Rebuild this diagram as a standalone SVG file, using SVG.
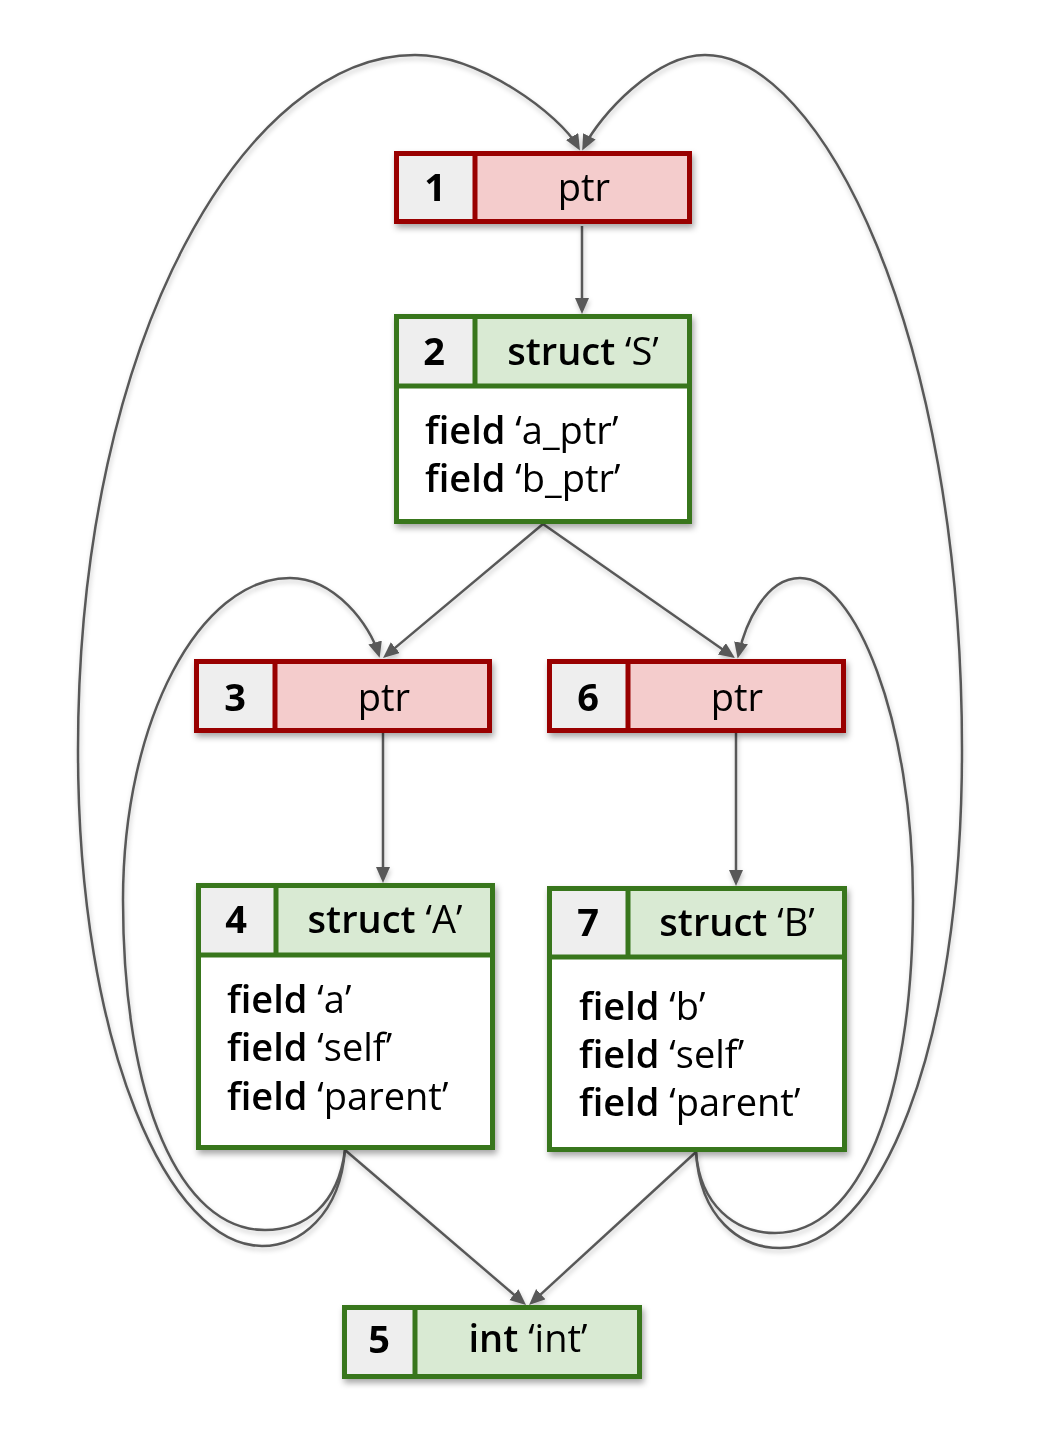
<svg xmlns="http://www.w3.org/2000/svg" width="1050" height="1451" viewBox="0 0 1050 1451">
<defs>
<filter id="nsh" x="-10%" y="-10%" width="125%" height="130%">
<feDropShadow dx="2" dy="4" stdDeviation="3" flood-color="#000" flood-opacity="0.35"/>
</filter>
<filter id="esh" x="-10%" y="-10%" width="120%" height="120%">
<feDropShadow dx="1" dy="3" stdDeviation="2.5" flood-color="#000" flood-opacity="0.22"/>
</filter>
<marker id="ah" markerUnits="userSpaceOnUse" markerWidth="18" markerHeight="16" refX="12" refY="7" orient="auto">
<path d="M0,0 L16,7 L0,14 z" fill="#595959"/>
</marker>
</defs>
<style>
text{font-family:"Open Sans","Noto Sans","Liberation Sans",sans-serif;font-size:38px;fill:#000}
.num{font-weight:700;text-anchor:middle}
.hd{text-anchor:middle}
.ptr{font-weight:500}
.b{font-weight:600}
.red{stroke:#990000;stroke-width:5;fill:none}
.grn{stroke:#38761d;stroke-width:5;fill:none}
.gc{fill:#eeeeee}
.pk{fill:#f4cccc}
.lg{fill:#d9ead3}
.wh{fill:#ffffff}
.e{fill:none;stroke:#595959;stroke-width:2.5;marker-end:url(#ah)}
</style>
<rect width="1050" height="1451" fill="#ffffff"/>
<g id="connectors" filter="url(#esh)">
<path class="e" d="M582,226 L582,310"/>
<path class="e" d="M543,524 L386.1,655.4"/>
<path class="e" d="M543,524 L731.7,655.7"/>
<path class="e" d="M383,733 L383,879"/>
<path class="e" d="M736,733 L736,882"/>
<path class="e" d="M345,1150 L523,1302.4"/>
<path class="e" d="M696,1152 L532,1302.3"/>
<path class="e" d="M345,1150 C340,1215 300,1246 262,1246 C170,1246 78,1050 78,750 C78,330 250,55 415,55 C480,55 560,115 578,147"/>
<path class="e" d="M696,1152 C700,1218 740,1248 780,1248 C880,1248 962,1050 962,750 C962,330 820,55 705,55 C655,55 600,115 584,147"/>
<path class="e" d="M345,1150 C338,1205 305,1230 265,1230 C180,1230 123,1100 123,900 C123,720 200,578 290,578 C335,578 370,625 378.5,654"/>
<path class="e" d="M696,1152 C700,1205 735,1233 775,1233 C860,1233 913,1100 913,900 C913,720 855,578 800,578 C765,578 745,625 738.5,654.5"/>
</g>
<g id="node1" filter="url(#nsh)">
<rect class="gc" x="396.5" y="153.5" width="79" height="68"/>
<rect class="pk" x="475" y="153.5" width="214.5" height="68"/>
<rect class="red" x="396.5" y="153.5" width="293" height="68"/>
<line class="red" x1="475" y1="153.5" x2="475" y2="221.5"/>
<text class="num" x="435" y="201">1</text>
<text class="hd ptr" x="584" y="201">ptr</text>
</g>
<g id="node2" filter="url(#nsh)">
<rect class="wh" x="396.5" y="316.5" width="293" height="205"/>
<rect class="gc" x="396.5" y="316.5" width="78.5" height="69.5"/>
<rect class="lg" x="475" y="316.5" width="214.5" height="69.5"/>
<rect class="grn" x="396.5" y="316.5" width="293" height="205"/>
<line class="grn" x1="396.5" y1="386" x2="689.5" y2="386"/>
<line class="grn" x1="475" y1="316.5" x2="475" y2="386"/>
<text class="num" x="434" y="365">2</text>
<text class="hd" x="583" y="365"><tspan class="b">struct</tspan> ‘S’</text>
<text x="425" y="444"><tspan class="b">field</tspan> ‘a_ptr’</text>
<text x="425" y="492"><tspan class="b">field</tspan> ‘b_ptr’</text>
</g>
<g id="node3" filter="url(#nsh)">
<rect class="gc" x="196.5" y="661.5" width="78.5" height="69"/>
<rect class="pk" x="275" y="661.5" width="214.5" height="69"/>
<rect class="red" x="196.5" y="661.5" width="293" height="69"/>
<line class="red" x1="275" y1="661.5" x2="275" y2="730.5"/>
<text class="num" x="235" y="711">3</text>
<text class="hd ptr" x="384" y="711">ptr</text>
</g>
<g id="node6" filter="url(#nsh)">
<rect class="gc" x="549.5" y="661.5" width="78.5" height="69"/>
<rect class="pk" x="628" y="661.5" width="215.5" height="69"/>
<rect class="red" x="549.5" y="661.5" width="294" height="69"/>
<line class="red" x1="628" y1="661.5" x2="628" y2="730.5"/>
<text class="num" x="588" y="711">6</text>
<text class="hd ptr" x="737" y="711">ptr</text>
</g>
<g id="node4" filter="url(#nsh)">
<rect class="wh" x="198.5" y="885.5" width="294" height="262"/>
<rect class="gc" x="198.5" y="885.5" width="77.5" height="69.5"/>
<rect class="lg" x="276" y="885.5" width="216.5" height="69.5"/>
<rect class="grn" x="198.5" y="885.5" width="294" height="262"/>
<line class="grn" x1="198.5" y1="955" x2="492.5" y2="955"/>
<line class="grn" x1="276" y1="885.5" x2="276" y2="955"/>
<text class="num" x="236" y="933">4</text>
<text class="hd" x="385" y="933"><tspan class="b">struct</tspan> ‘A’</text>
<text x="227" y="1013"><tspan class="b">field</tspan> ‘a’</text>
<text x="227" y="1061"><tspan class="b">field</tspan> ‘self’</text>
<text x="227" y="1110"><tspan class="b">field</tspan> ‘parent’</text>
</g>
<g id="node7" filter="url(#nsh)">
<rect class="wh" x="549.5" y="888.5" width="295" height="261"/>
<rect class="gc" x="549.5" y="888.5" width="78.5" height="68.5"/>
<rect class="lg" x="628" y="888.5" width="216.5" height="68.5"/>
<rect class="grn" x="549.5" y="888.5" width="295" height="261"/>
<line class="grn" x1="549.5" y1="957" x2="844.5" y2="957"/>
<line class="grn" x1="628" y1="888.5" x2="628" y2="957"/>
<text class="num" x="588" y="936">7</text>
<text class="hd" x="737" y="936"><tspan class="b">struct</tspan> ‘B’</text>
<text x="579" y="1020"><tspan class="b">field</tspan> ‘b’</text>
<text x="579" y="1068"><tspan class="b">field</tspan> ‘self’</text>
<text x="579" y="1116"><tspan class="b">field</tspan> ‘parent’</text>
</g>
<g id="node5" filter="url(#nsh)">
<rect class="gc" x="344.5" y="1307.5" width="70.5" height="69"/>
<rect class="lg" x="415" y="1307.5" width="224.5" height="69"/>
<rect class="grn" x="344.5" y="1307.5" width="295" height="69"/>
<line class="grn" x1="415" y1="1307.5" x2="415" y2="1376.5"/>
<text class="num" x="379" y="1353">5</text>
<text class="hd" x="528" y="1352"><tspan class="b">int</tspan> ‘int’</text>
</g>
</svg>
